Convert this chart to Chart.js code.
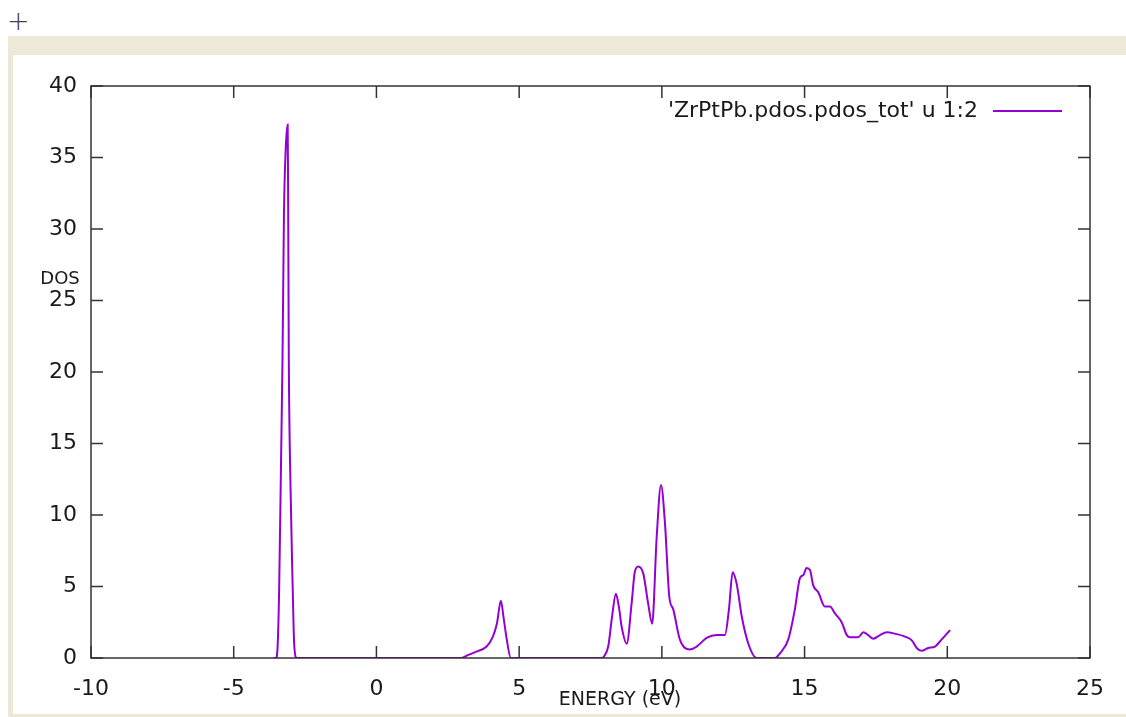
<!DOCTYPE html>
<html>
<head>
<meta charset="utf-8">
<script src="https://cdn.jsdelivr.net/npm/chart.js@4.4.1/dist/chart.umd.min.js"></script>
<style>
  html, body { margin: 0; padding: 0; background: #fff; overflow: hidden; width: 1126px; height: 717px; }
  #plus { position: absolute; left: 7px; top: 5px; font: 27px "DejaVu Sans"; color: #444; font-weight: 200; }
  #frame { position: absolute; left: 8px; top: 36px; width: 1130px; height: 659px;
           border-top: 19px solid #ECE9D8; border-left: 5px solid #ECE9D8; border-bottom: 3px solid #ECE9D8; background: #fff; }
  canvas { display: block; }
</style>
</head>
<body>
<div id="plus">+</div>
<div id="frame"><canvas id="c" width="1113" height="659"></canvas></div>
<script>
// energy (eV) and total DOS
var energy = [-3.6, -3.52, -3.46, -3.41, -3.34, -3.29, -3.24, -3.18, -3.11, -3.095, -3.07, -3.03, -2.93, -2.88, -2.79,
  2.95, 3.2, 3.5, 3.86, 4.08, 4.22, 4.36, 4.45, 4.55, 4.71,
  7.9, 7.97, 8.12, 8.25, 8.39, 8.5, 8.59, 8.77, 8.94, 9.05, 9.17, 9.35, 9.52, 9.66, 9.82, 9.97, 10.11, 10.26, 10.4,
  10.63, 10.98, 11.22, 11.57, 11.92, 12.21, 12.35, 12.48, 12.62, 12.8, 13.03, 13.32,
  13.96, 14.14, 14.43, 14.66, 14.84, 14.96, 15.07, 15.19, 15.3, 15.48, 15.71, 15.89, 16.07, 16.3, 16.48,
  16.59, 16.88, 17.06, 17.23, 17.41, 17.64, 17.88, 18.17, 18.52, 18.75, 18.93, 19.1, 19.33, 19.57, 19.74, 20.1];
var dos = [0, 0, 0.9, 4.6, 14, 21, 31, 35.5, 37.3, 33, 21, 14, 4.6, 0.9, 0,
  0, 0.2, 0.45, 0.8, 1.5, 2.4, 4.0, 2.9, 1.5, 0,
  0, 0.1, 0.8, 2.8, 4.5, 3.5, 2.2, 1.0, 3.8, 6.0, 6.4, 5.9, 3.8, 2.4, 8.5, 12.1, 9.4, 4.3, 3.4,
  1.3, 0.6, 0.8, 1.4, 1.6, 1.6, 3.4, 6.0, 5.2, 2.9, 1.0, 0,
  0, 0.33, 1.3, 3.4, 5.6, 5.8, 6.3, 6.15, 5.1, 4.6, 3.6, 3.6, 3.1, 2.5, 1.6,
  1.45, 1.45, 1.8, 1.6, 1.35, 1.6, 1.8, 1.7, 1.5, 1.25, 0.7, 0.5, 0.7, 0.8, 1.15, 1.95];

var seriesLabel = "'ZrPtPb.pdos.pdos_tot' u 1:2";
var xTitle = "ENERGY (eV)";
var yTitle = "DOS";

var points = [];
for (var i = 0; i < energy.length; i++) {
  points.push({x: energy[i], y: dos[i]});
}

var purple = "#9400D3";
var tickFont = {family: "DejaVu Sans", size: 22};

// gnuplot style box, inward ticks, key and axis labels
var gnuFrame = {
  id: "gnuFrame",
  afterDatasetsDraw: function(chart) {
    var ctx = chart.ctx, a = chart.chartArea;
    var xs = chart.scales.x, ys = chart.scales.y;
    ctx.save();
    ctx.strokeStyle = "#333";
    ctx.lineWidth = 1.5;
    ctx.strokeRect(a.left, a.top, a.right - a.left, a.bottom - a.top);
    ctx.beginPath();
    xs.ticks.forEach(function(t) {
      var px = xs.getPixelForValue(t.value);
      ctx.moveTo(px, a.bottom); ctx.lineTo(px, a.bottom - 12);
      ctx.moveTo(px, a.top); ctx.lineTo(px, a.top + 12);
    });
    ys.ticks.forEach(function(t) {
      var py = ys.getPixelForValue(t.value);
      ctx.moveTo(a.left, py); ctx.lineTo(a.left + 12, py);
      ctx.moveTo(a.right, py); ctx.lineTo(a.right - 12, py);
    });
    ctx.stroke();

    // key
    ctx.fillStyle = "#1a1a1a";
    ctx.font = "22px 'DejaVu Sans'";
    ctx.textAlign = "right";
    ctx.textBaseline = "middle";
    ctx.fillText(seriesLabel, 965, 56);
    ctx.strokeStyle = purple;
    ctx.lineWidth = 2;
    ctx.beginPath();
    ctx.moveTo(980, 56); ctx.lineTo(1049, 56);
    ctx.stroke();

    // axis titles
    ctx.font = "18px 'DejaVu Sans'";
    ctx.textAlign = "center";
    ctx.fillText(yTitle, 47, 224);
    ctx.font = "19px 'DejaVu Sans'";
    ctx.fillText(xTitle, 607, 645);
    ctx.restore();
  }
};

var chart = new Chart(document.getElementById("c"), {
  type: "scatter",
  data: {
    datasets: [{
      label: seriesLabel,
      data: points,
      showLine: true,
      borderColor: purple,
      borderWidth: 2,
      pointRadius: 0,
      cubicInterpolationMode: "monotone"
    }]
  },
  options: {
    responsive: false,
    animation: false,
    layout: {padding: {top: 31, right: 36, left: 0, bottom: 0}},
    plugins: {legend: {display: false}, tooltip: {enabled: false}},
    scales: {
      x: {
        type: "linear", min: -10, max: 25,
        ticks: {stepSize: 5, font: tickFont, color: "#1a1a1a", padding: 18, maxRotation: 0},
        grid: {display: false, drawTicks: false},
        border: {display: false},
        afterFit: function(s) { s.height = 56; }
      },
      y: {
        min: 0, max: 40,
        ticks: {stepSize: 5, font: tickFont, color: "#1a1a1a", padding: 14},
        grid: {display: false, drawTicks: false},
        border: {display: false},
        afterFit: function(s) { s.width = 78; }
      }
    }
  },
  plugins: [gnuFrame]
});
</script>
</body>
</html>
